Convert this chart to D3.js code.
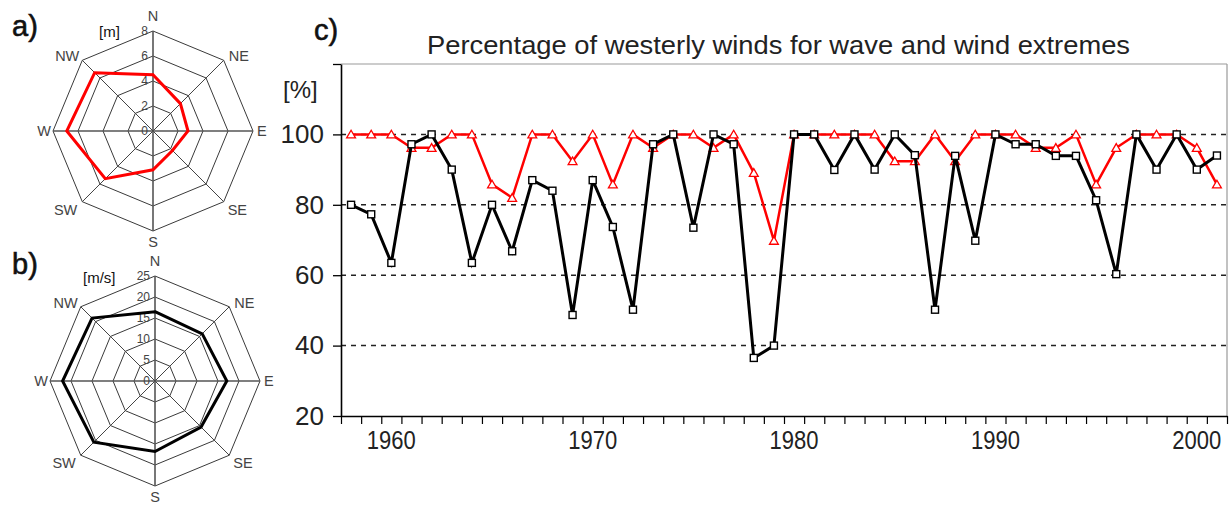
<!DOCTYPE html>
<html>
<head>
<meta charset="utf-8">
<script src="https://cdn.jsdelivr.net/npm/d3@7/dist/d3.min.js"></script>
<style>
  body { margin: 0; background: #fff; }
  svg { display: block; font-family: "Liberation Sans", Arial, sans-serif; }
</style>
</head>
<body>
<svg id="chart" width="1231" height="507"></svg>
<script>
// compass sectors, clockwise from north
var directions = ["N", "NE", "E", "SE", "S", "SW", "W", "NW"];

// a) wave height extremes per direction [m]
var waveHeight = [4.5, 3.1, 2.8, 2.2, 3.1, 5.4, 6.9, 6.6];
var waveTicks = [0, 2, 4, 6, 8];

// b) wind speed extremes per direction [m/s]
var windSpeed = [16.5, 15.9, 17.1, 15.5, 16.8, 20.6, 22, 21.2];
var windTicks = [0, 5, 10, 15, 20, 25];

// c) percentage of westerly winds
var years = [1958, 1959, 1960, 1961, 1962, 1963, 1964, 1965, 1966, 1967, 1968,
  1969, 1970, 1971, 1972, 1973, 1974, 1975, 1976, 1977, 1978, 1979, 1980, 1981,
  1982, 1983, 1984, 1985, 1986, 1987, 1988, 1989, 1990, 1991, 1992, 1993, 1994,
  1995, 1996, 1997, 1998, 1999, 2000, 2001];
var waveWesterly = [100, 100, 100, 96.2, 96.2, 100, 100, 85.8, 82, 100, 100, 92.4,
  100, 85.8, 100, 96.2, 100, 100, 96.2, 100, 89.1, 69.8, 100, 100, 100, 100, 100,
  92.4, 92.4, 100, 92.4, 100, 100, 100, 96.2, 96.2, 100, 85.8, 96.2, 100, 100, 100,
  96.2, 85.8];
var windWesterly = [80, 77.3, 63.5, 97.2, 100, 90, 63.5, 80, 66.8, 87, 84, 48.7,
  87, 73.7, 50.2, 97.2, 100, 73.5, 100, 97.2, 36.5, 40, 100, 100, 89.9, 100, 90,
  100, 94.1, 50.2, 93.9, 69.8, 100, 97.2, 97.2, 93.9, 93.9, 81.3, 60.3, 100, 90,
  100, 90, 94];
var yTicks = [20, 40, 60, 80, 100, 120];
var yearLabels = [1960, 1970, 1980, 1990, 2000];

var svg = d3.select("#chart");

// label offsets around the octagon vertices
var labelOffsets = [
  {dx: 0, dy: -10, anchor: "middle"},
  {dx: 5, dy: 1, anchor: "start"},
  {dx: 4, dy: 5, anchor: "start"},
  {dx: 4, dy: 13, anchor: "start"},
  {dx: 0, dy: 16, anchor: "middle"},
  {dx: -5, dy: 13, anchor: "end"},
  {dx: -2, dy: 5, anchor: "end"},
  {dx: -3, dy: 1, anchor: "end"}
];

function drawRadar(opts){
  var g = svg.append("g").attr("transform", "translate(" + opts.cx + "," + opts.cy + ")");
  var r = d3.scaleLinear().domain([0, opts.max]).range([0, opts.radius]);
  var angle = function(i){ return i * Math.PI / 4; };
  var pt = function(v, i){ return [r(v) * Math.sin(angle(i)), -r(v) * Math.cos(angle(i))]; };
  var ring = d3.line();

  // rings
  opts.ticks.slice(1).forEach(function(t){
    g.append("path")
      .attr("d", ring(directions.map(function(d, i){ return pt(t, i); })) + "Z")
      .attr("fill", "none").attr("stroke", "#3a3a3a").attr("stroke-width", 1);
  });

  // spokes
  directions.forEach(function(d, i){
    var p = pt(opts.max, i);
    g.append("line")
      .attr("x1", 0).attr("y1", 0).attr("x2", p[0]).attr("y2", p[1])
      .attr("stroke", i % 2 == 0 ? "#555" : "#444")
      .attr("stroke-width", i % 2 == 0 ? 1.6 : 1);
    var o = labelOffsets[i];
    g.append("text")
      .attr("x", p[0] + o.dx).attr("y", p[1] + o.dy)
      .attr("text-anchor", o.anchor)
      .attr("font-size", 14.5).attr("fill", "#444")
      .text(d);
  });

  // tick labels along the north spoke
  opts.ticks.forEach(function(t){
    g.append("text")
      .attr("x", -5).attr("y", -r(t))
      .attr("dy", "0.35em")
      .attr("text-anchor", "end")
      .attr("font-size", 12).attr("fill", "#444")
      .text(t);
  });

  // data polygon
  g.append("path")
    .attr("d", ring(opts.values.map(function(v, i){ return pt(v, i); })) + "Z")
    .attr("fill", "none")
    .attr("stroke", opts.color)
    .attr("stroke-width", 3)
    .attr("stroke-linejoin", "miter");

  svg.append("text").attr("x", opts.unitX).attr("y", opts.unitY)
    .attr("font-size", 15).attr("fill", "#111").text(opts.unit);
  svg.append("text").attr("x", 12).attr("y", opts.letterY)
    .attr("font-size", 29).attr("fill", "#111")
    .attr("stroke", "#111").attr("stroke-width", 0.6)
    .text(opts.letter);
}

drawRadar({cx: 153, cy: 131, radius: 100, max: 8, ticks: waveTicks, values: waveHeight,
  color: "#ff0000", unit: "[m]", unitX: 99, unitY: 37, letter: "a)", letterY: 36});
drawRadar({cx: 155, cy: 381, radius: 105, max: 25, ticks: windTicks, values: windSpeed,
  color: "#000", unit: "[m/s]", unitX: 83, unitY: 283, letter: "b)", letterY: 274});

// ---- c) line chart ----
var x = d3.scaleLinear().domain([1957.5, 2001.5]).range([341, 1227]);
var y = d3.scaleLinear().domain([20, 120]).range([416, 64]);

// frame
svg.append("line").attr("x1", x(1957.5)).attr("x2", x(2001.5)).attr("y1", y(120)).attr("y2", y(120))
  .attr("stroke", "#999").attr("stroke-width", 1.2);
svg.append("line").attr("x1", x(2001.5)).attr("x2", x(2001.5)).attr("y1", y(120)).attr("y2", y(20))
  .attr("stroke", "#999").attr("stroke-width", 1.2);

// dashed gridlines
svg.append("g").selectAll("line")
  .data([40, 60, 80, 100]).enter()
  .append("line")
  .attr("x1", x(1957.5)).attr("x2", x(2001.5))
  .attr("y1", function(d){ return y(d); }).attr("y2", function(d){ return y(d); })
  .attr("stroke", "#222").attr("stroke-width", 1.5)
  .attr("stroke-dasharray", "5,5");

var yAxis = svg.append("g")
  .attr("transform", "translate(" + x(1957.5) + ",0)")
  .call(d3.axisLeft(y).tickValues(yTicks).tickSize(8).tickSizeOuter(0).tickPadding(9)
    .tickFormat(function(d){ return d == 120 ? "" : d; }));
yAxis.select(".domain").attr("stroke-width", 1.6);
yAxis.selectAll("line").attr("stroke-width", 1.3);
yAxis.selectAll("text").attr("font-size", 26).attr("fill", "#222")
  .attr("font-family", "Liberation Sans, Arial, sans-serif");

var tickYears = years.map(function(yr){ return yr - 0.5; }).concat([2001.5]);
var xAxis = svg.append("g")
  .attr("transform", "translate(0," + y(20) + ")")
  .call(d3.axisBottom(x).tickValues(tickYears).tickSize(8).tickSizeOuter(0).tickFormat(""));
xAxis.select(".domain").attr("stroke-width", 1.6);
xAxis.selectAll("line").attr("stroke-width", 1.2);

svg.append("g").selectAll("text")
  .data(yearLabels).enter()
  .append("text")
  .attr("x", function(d){ return x(d); })
  .attr("y", 449)
  .attr("text-anchor", "middle")
  .attr("font-size", 26).attr("fill", "#222")
  .attr("textLength", 49).attr("lengthAdjust", "spacingAndGlyphs")
  .text(function(d){ return d; });

var line = d3.line()
  .x(function(d){ return x(d[0]); })
  .y(function(d){ return y(d[1]); });

var waveData = years.map(function(yr, i){ return [yr, waveWesterly[i]]; });
var windData = years.map(function(yr, i){ return [yr, windWesterly[i]]; });

svg.append("path").datum(waveData)
  .attr("d", line).attr("fill", "none")
  .attr("stroke", "#ff0000").attr("stroke-width", 2.5);
svg.append("g").selectAll("path")
  .data(waveData).enter()
  .append("path")
  .attr("d", d3.symbol().type(d3.symbolTriangle).size(34))
  .attr("transform", function(d){ return "translate(" + x(d[0]) + "," + (y(d[1]) + 1) + ")"; })
  .attr("fill", "#fff").attr("stroke", "#ff0000").attr("stroke-width", 1.3);

svg.append("path").datum(windData)
  .attr("d", line).attr("fill", "none")
  .attr("stroke", "#000").attr("stroke-width", 3);
svg.append("g").selectAll("rect")
  .data(windData).enter()
  .append("rect")
  .attr("x", function(d){ return x(d[0]) - 3.5; })
  .attr("y", function(d){ return y(d[1]) - 3.5; })
  .attr("width", 7).attr("height", 7)
  .attr("fill", "#fff").attr("stroke", "#000").attr("stroke-width", 1.4);

// titles
svg.append("text").attr("x", 778.5).attr("y", 54)
  .attr("text-anchor", "middle").attr("font-size", 26).attr("fill", "#222")
  .attr("textLength", 703).attr("lengthAdjust", "spacingAndGlyphs")
  .text("Percentage of westerly winds for wave and wind extremes");
svg.append("text").attr("x", 314).attr("y", 40)
  .attr("font-size", 29).attr("fill", "#111")
  .attr("stroke", "#111").attr("stroke-width", 0.6)
  .text("c)");
svg.append("text").attr("x", 283).attr("y", 98)
  .attr("font-size", 24).attr("fill", "#222").text("[%]");
</script>
</body>
</html>
